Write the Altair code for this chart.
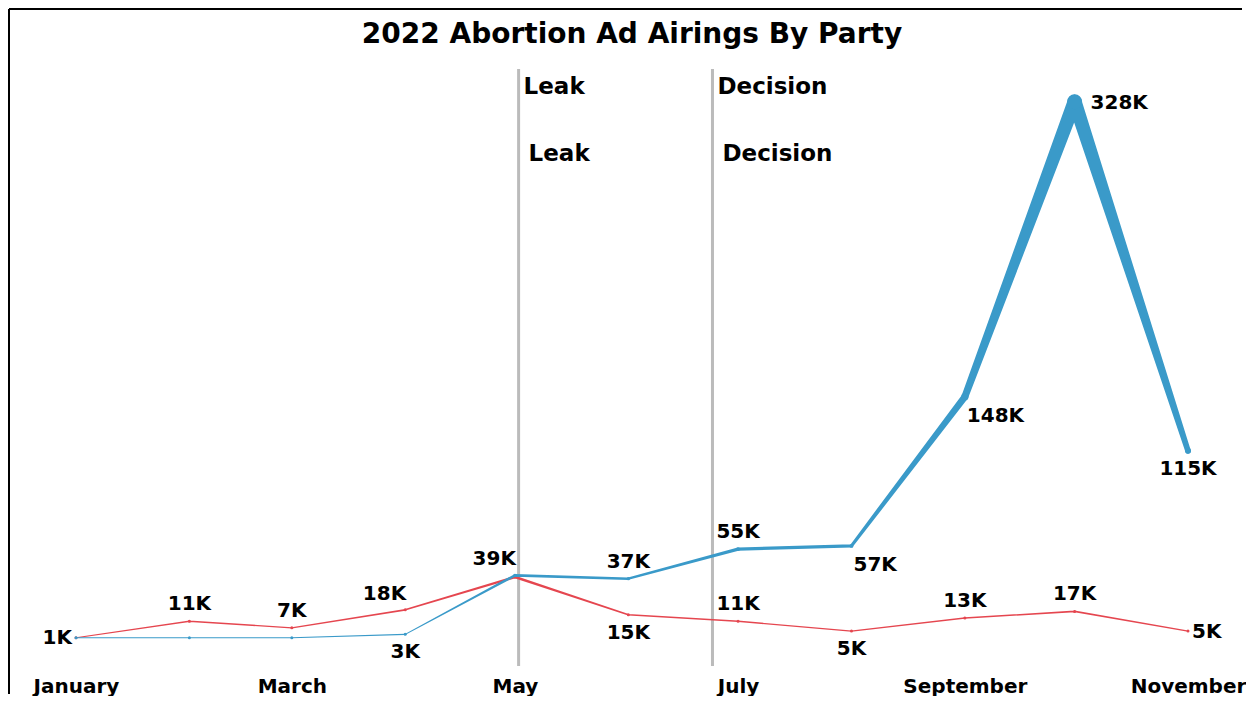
import altair as alt
import pandas as pd

# ---------------- data ----------------
months = ["2022-01-01", "2022-02-01", "2022-03-01", "2022-04-01", "2022-05-01", "2022-06-01",
          "2022-07-01", "2022-08-01", "2022-09-01", "2022-10-01", "2022-11-01"]
dem_airings_k = [1, 1, 1, 3, 39, 37, 55, 57, 148, 328, 115]
rep_airings_k = [1, 11, 7, 18, 38, 15, 11, 5, 13, 17, 5]
# where each value label sits relative to its point (None = label hidden)
dem_label_place = [None, None, None, "below", "above-left", "above", "above",
                   "below-right", "below-right", "right-far", "below"]
rep_label_place = ["left", "above", "above", "above-left", None, "below", "above",
                   "below", "above", "above", "right"]

event_dates = ["2022-05-02", "2022-06-24"]
event_names = ["Leak", "Decision"]
axis_months = [1, 3, 5, 7, 9, 11]
title_text = "2022 Abortion Ad Airings By Party"

# ---------------- style ----------------
FONT = "DejaVu Sans"
BLUE = "#3A9AC9"
RED = "#E5464F"
W, H = 1112, 597

rows = []
for party, vals, places in [("Republican", rep_airings_k, rep_label_place),
                            ("Democrat", dem_airings_k, dem_label_place)]:
    for m, v, p in zip(months, vals, places):
        rows.append({"date": m, "party": party, "k": v, "place": p if p else "none"})
df = pd.DataFrame(rows)
events = pd.DataFrame({"date": event_dates, "name": event_names})

x_enc = alt.X(
    "date:T",
    scale=alt.Scale(type="utc", domain=[alt.DateTime(year=2022, month=1, date=1, utc=True),
                                        alt.DateTime(year=2022, month=11, date=1, utc=True)]),
    axis=alt.Axis(values=[alt.DateTime(year=2022, month=m, date=1, utc=True) for m in axis_months],
                  labelExpr="utcFormat(datum.value, '%B')", labelFont=FONT, labelFontSize=20,
                  labelFontWeight="bold", labelColor="black", ticks=False, domain=False,
                  grid=False, title=None, labelPadding=10, labelFlush=False, labelOverlap=False),
)
y_enc = alt.Y("k:Q", scale=alt.Scale(domain=[-16.3, 348], nice=False, zero=False), axis=None)

base = alt.Chart(df).encode(x=x_enc, y=y_enc)

def series_layers(party, color):
    b = base.transform_filter(alt.datum.party == party)
    trail = b.mark_trail(color=color).encode(
        size=alt.Size("k:Q", scale=alt.Scale(domain=[0, 330], range=[1, 14.2]), legend=None))
    pts = b.mark_circle(color=color, opacity=1).encode(
        size=alt.Size("k:Q", scale=alt.Scale(type="pow", exponent=2, domain=[0, 330], range=[9, 230]),
                      legend=None))
    return [trail, pts]

placements = {
    "above": dict(align="center", dx=0, dy=-17),
    "below": dict(align="center", dx=0, dy=18),
    "left": dict(align="right", dx=-4, dy=0),
    "right": dict(align="left", dx=4, dy=1),
    "right-far": dict(align="left", dx=16, dy=1),
    "above-left": dict(align="right", dx=1, dy=-16),
    "below-right": dict(align="left", dx=2, dy=19),
}
label_layers = []
for place, opts in placements.items():
    label_layers.append(
        base.transform_filter(alt.datum.place == place)
        .transform_calculate(label="format(datum.k, 'd') + 'K'")
        .mark_text(font=FONT, fontSize=20, fontWeight="bold", color="black",
                   baseline="middle", **opts)
        .encode(text="label:N")
    )

ev = alt.Chart(events)
rules = ev.mark_rule(color="#BBBBBB", strokeWidth=3).encode(x=alt.X("date:T"))
ev_text1 = ev.mark_text(font=FONT, fontSize=23, fontWeight="bold", color="black",
                        align="left", baseline="middle", dx=5).encode(
    x="date:T", y=alt.value(18), text="name:N")
ev_text2 = ev.mark_text(font=FONT, fontSize=23, fontWeight="bold", color="black",
                        align="left", baseline="middle", dx=10).encode(
    x="date:T", y=alt.value(85), text="name:N")

frame_src = alt.Chart(pd.DataFrame({"t": [title_text]}))
top_border = frame_src.mark_rule(color="black", strokeWidth=2).encode(
    x=alt.value(-67), x2=alt.value(W + 54), y=alt.value(-60))
left_border = frame_src.mark_rule(color="black", strokeWidth=2).encode(
    x=alt.value(-67), y=alt.value(-60), y2=alt.value(H + 28))
title_mark = frame_src.mark_text(font=FONT, fontSize=28, fontWeight="bold", color="black",
                                 align="center", baseline="alphabetic").encode(
    x=alt.value(W / 2), y=alt.value(-26), text="t:N")

layers = [rules, ev_text1, ev_text2] + series_layers("Republican", RED) + \
    series_layers("Democrat", BLUE) + label_layers + [top_border, left_border, title_mark]

chart = alt.layer(*layers).resolve_scale(size="independent").properties(
    width=W, height=H, padding=0,
).configure_view(stroke=None)

chart.save("out.html", embed_options={"renderer": "svg", "actions": False})
